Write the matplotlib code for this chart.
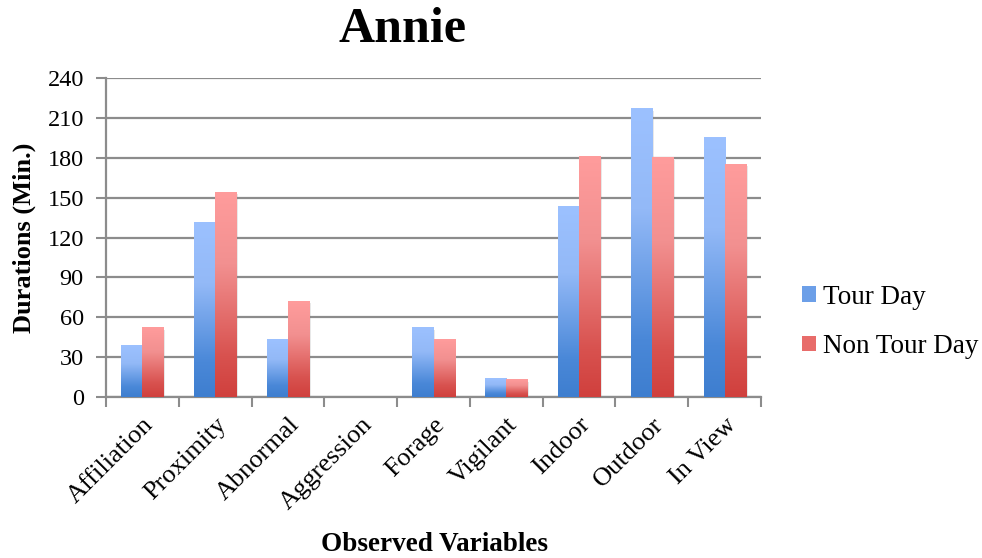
import numpy as np
import matplotlib.pyplot as plt
from matplotlib.colors import LinearSegmentedColormap
from matplotlib.patches import Patch, Rectangle

plt.rcParams['font.family'] = ['Liberation Serif', 'DejaVu Serif']

categories = ['Affiliation', 'Proximity', 'Abnormal', 'Aggression', 'Forage',
              'Vigilant', 'Indoor', 'Outdoor', 'In View']
tour_day = [39, 131, 43, 0, 52, 14, 143, 217, 195]
non_tour_day = [52, 154, 72, 0, 43, 13, 181, 180, 175]

# vertical gradients, bottom -> top
blue = LinearSegmentedColormap.from_list('blue', [(0, '#3E7ECF'), (0.2, '#4A88D8'),
                                                  (0.65, '#93B9F7'), (1, '#9CC1FF')])
red = LinearSegmentedColormap.from_list('red', [(0, '#D0403D'), (0.2, '#D8524F'),
                                                (0.65, '#F29090'), (1, '#FF9C9C')])

fig = plt.figure(figsize=(9.82, 5.58), dpi=100)
ax = fig.add_axes([0.108, 0.2885, 0.667, 0.5715])

x = np.arange(len(categories))
w = 0.29
grad = np.linspace(0, 1, 256).reshape(-1, 1)

def gradient_bars(xs, vals, cmap):
    for xi, v in zip(xs, vals):
        if v <= 0:
            continue
        # soft shadow on the right side
        ax.add_patch(Rectangle((xi - w / 2 + 0.025, 0), w, v - 1.5, color='#808080',
                               alpha=0.18, lw=0, zorder=2))
        ax.imshow(grad, cmap=cmap, origin='lower', aspect='auto',
                  extent=[xi - w / 2, xi + w / 2, 0, v], zorder=3, interpolation='bilinear')

gradient_bars(x - w / 2, tour_day, blue)
gradient_bars(x + w / 2, non_tour_day, red)

ax.set_xlim(-0.5, len(categories) - 0.5)
ax.set_ylim(0, 240)
ax.set_yticks(np.arange(0, 241, 30))
ax.yaxis.grid(True, color='#8C8C8C', lw=1.6, zorder=0)
ax.set_axisbelow(True)

ax.set_xticks(x)
ax.set_xticklabels(categories, rotation=45, ha='right', rotation_mode='anchor', fontsize=19)
ax.set_xticks(np.arange(-0.5, len(categories)), minor=True)
ax.tick_params(axis='x', which='major', length=0, pad=12)
ax.tick_params(axis='x', which='minor', length=7, width=1.5, color='#8C8C8C')
ax.tick_params(axis='y', length=7, width=1.5, color='#8C8C8C', labelsize=17.5, pad=9)

for s in ['top', 'right']:
    ax.spines[s].set_visible(False)
for s in ['left', 'bottom']:
    ax.spines[s].set_color('#8C8C8C')
    ax.spines[s].set_linewidth(1.6)

ax.set_ylabel('Durations (Min.)', fontsize=19, fontweight='bold')
ax.yaxis.set_label_coords(-0.107, 0.5)
fig.text(0.442, 0.012, 'Observed Variables', fontsize=19.5, fontweight='bold', ha='center')
fig.text(0.41, 0.925, 'Annie', fontsize=36, fontweight='bold', ha='center')

handles = [Patch(facecolor='#6C9FE8', label='Tour Day'),
           Patch(facecolor='#E86C6A', label='Non Tour Day')]
fig.legend(handles=handles, loc='center left', bbox_to_anchor=(0.792, 0.423), frameon=False,
           fontsize=19.5, handlelength=0.52, handleheight=0.5, handletextpad=0.25,
           labelspacing=0.9)

fig.savefig('out.png', dpi=100)
